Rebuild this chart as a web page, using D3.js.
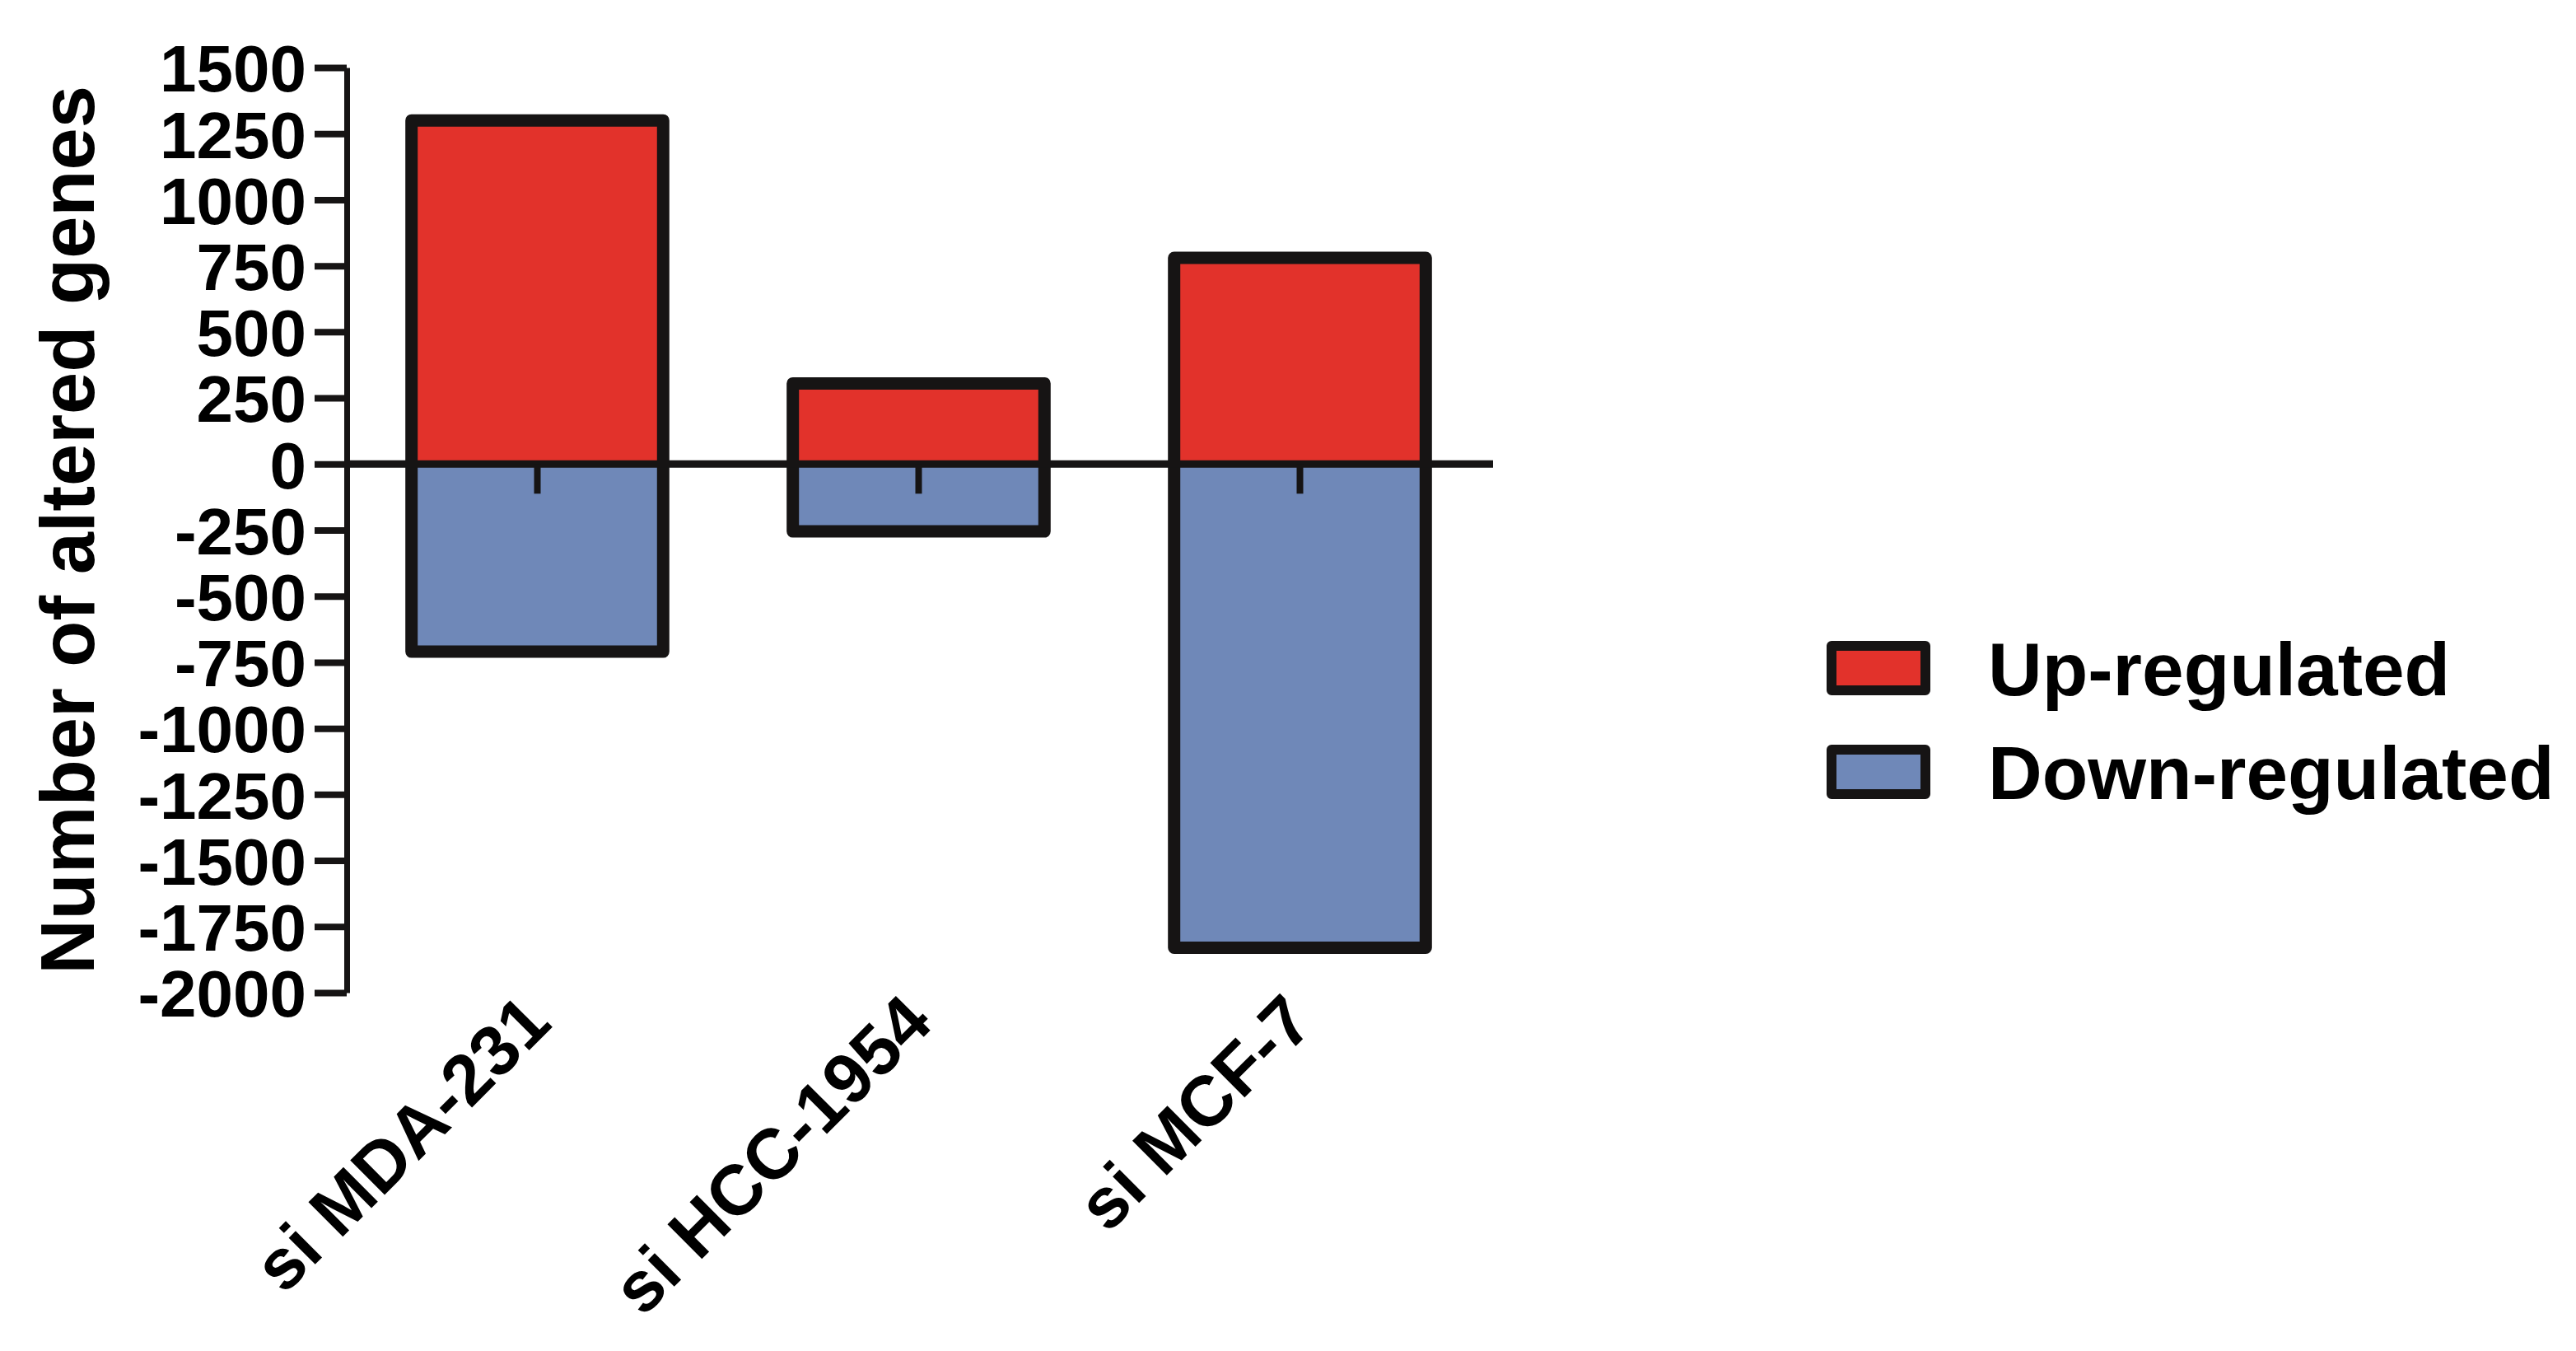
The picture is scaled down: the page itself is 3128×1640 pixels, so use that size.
<!DOCTYPE html>
<html>
<head>
<meta charset="utf-8">
<script src="https://cdn.jsdelivr.net/npm/d3@7/dist/d3.min.js"></script>
<style>
  html, body { margin: 0; padding: 0; background: #ffffff; }
  svg { display: block; }
  text { font-family: "Liberation Sans", Arial, Helvetica, sans-serif; fill: #000; }
</style>
</head>
<body>
<svg id="chart" width="3128" height="1640"></svg>
<script>
// ---- Data ----
const categories = ["si MDA-231", "si HCC-1954", "si MCF-7"];
const upRegulated = [1300, 305, 780];
const downRegulated = [-710, -255, -1830];
const yTicks = [1500, 1250, 1000, 750, 500, 250, 0, -250, -500, -750, -1000, -1250, -1500, -1750, -2000];
const seriesNames = ["Up-regulated", "Down-regulated"];
const seriesColors = ["#e2322b", "#6f88b8"];
const yTitle = "Number of altered genes";

// ---- Layout ----
const svg = d3.select("#chart");
const W = 3128, H = 1640;
svg.append("rect").attr("width", W).attr("height", H).attr("fill", "#ffffff");

const axisX = 421, zeroEnd = 1813;
const y = d3.scaleLinear().domain([-2000, 1500]).range([1205, 82]);
const x = d3.scaleBand().domain(categories).range([axisX, 1810]).paddingInner(0.34).paddingOuter(0.17);

const ink = "#161414";

// bar fills
const g = svg.append("g");
categories.forEach((c, i) => {
  const x0 = x(c), bw = x.bandwidth();
  g.append("rect").attr("x", x0).attr("width", bw)
    .attr("y", y(upRegulated[i])).attr("height", y(0) - y(upRegulated[i]))
    .attr("fill", seriesColors[0]);
  g.append("rect").attr("x", x0).attr("width", bw)
    .attr("y", y(0)).attr("height", y(downRegulated[i]) - y(0))
    .attr("fill", seriesColors[1]);
  // outline of the stacked bar
  g.append("rect").attr("x", x0).attr("width", bw)
    .attr("y", y(upRegulated[i])).attr("height", y(downRegulated[i]) - y(upRegulated[i]))
    .attr("fill", "none").attr("stroke", ink).attr("stroke-width", 15)
    .attr("stroke-linejoin", "round");
});

// zero line
svg.append("line").attr("x1", axisX).attr("x2", zeroEnd)
  .attr("y1", y(0)).attr("y2", y(0))
  .attr("stroke", ink).attr("stroke-width", 9);

// small category ticks below zero line
categories.forEach(c => {
  const cx = x(c) + x.bandwidth() / 2;
  svg.append("line").attr("x1", cx).attr("x2", cx)
    .attr("y1", y(0)).attr("y2", y(0) + 36)
    .attr("stroke", ink).attr("stroke-width", 8);
});

// y axis
const yAxis = d3.axisLeft(y).tickValues(yTicks).tickSize(39).tickSizeOuter(0).tickPadding(10)
  .tickFormat(d => String(d));
const ya = svg.append("g").attr("transform", `translate(${axisX},0)`).call(yAxis);
ya.select(".domain").attr("stroke", ink).attr("stroke-width", 7);
ya.selectAll(".tick line").attr("stroke", ink).attr("stroke-width", 8);
ya.selectAll(".tick text")
  .style("font-family", '"Liberation Sans", Arial, sans-serif')
  .style("font-weight", "bold").style("font-size", "80px")
  .attr("fill", "#000").attr("dy", "0.36em");

// y title
svg.append("text")
  .attr("transform", `translate(114, ${(y(1500) + y(-2000)) / 2}) rotate(-90)`)
  .attr("text-anchor", "middle")
  .style("font-weight", "bold").style("font-size", "92px")
  .text(yTitle);

// x labels
categories.forEach(c => {
  const cx = x(c) + x.bandwidth() / 2;
  svg.append("text")
    .attr("transform", `translate(${cx + 20}, 1245) rotate(-45)`)
    .attr("text-anchor", "end")
    .style("font-weight", "bold").style("font-size", "86px")
    .text(c);
});

// legend
const legendY = [811, 937];
seriesNames.forEach((s, i) => {
  svg.append("rect").attr("x", 2224).attr("y", legendY[i] - 27)
    .attr("width", 114).attr("height", 54)
    .attr("fill", seriesColors[i]).attr("stroke", ink).attr("stroke-width", 12)
    .attr("stroke-linejoin", "round");
  svg.append("text").attr("x", 2414).attr("y", legendY[i]).attr("dy", "0.36em")
    .style("font-weight", "bold").style("font-size", "91px")
    .text(s);
});
</script>
</body>
</html>
